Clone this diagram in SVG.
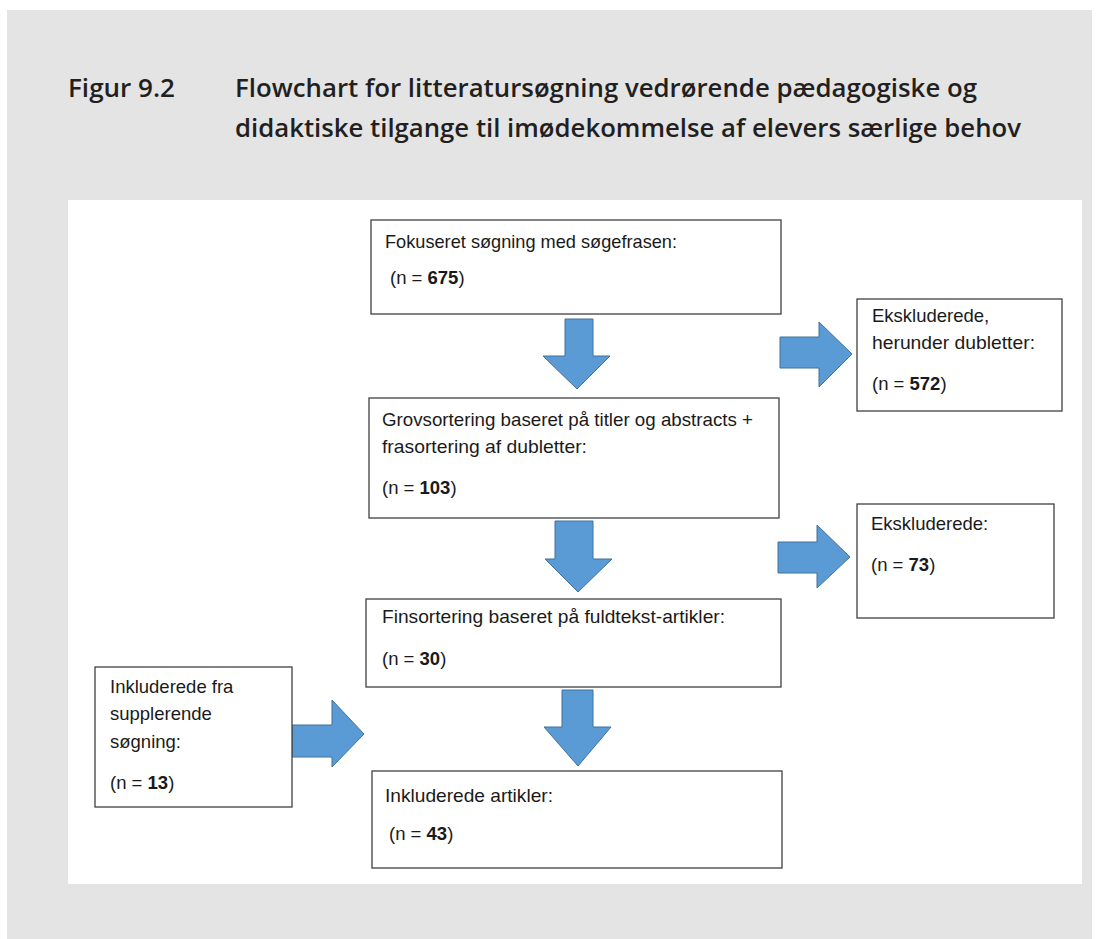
<svg xmlns="http://www.w3.org/2000/svg" width="1099" height="939" viewBox="0 0 1099 939">
<style>
.title{font-family:"Open Sans","Noto Sans",sans-serif;font-weight:600;font-size:25.5px;fill:#231f20}
.box{fill:#ffffff;stroke:#404040;stroke-width:1.3}
.t{font-family:"Liberation Sans",Arial,sans-serif;font-size:18.5px;fill:#1a1a1a}
.b{font-weight:bold}
.arr{fill:#5b9bd5;stroke:#41719c;stroke-width:1}
</style>
<rect x="0" y="0" width="1099" height="939" fill="#ffffff"/>
<rect x="7" y="10" width="1085" height="929" fill="#e4e4e5"/>
<rect x="68" y="200" width="1014" height="684" fill="#ffffff"/>
<g id="title">
<text class="title" x="68" y="97" textLength="107" lengthAdjust="spacingAndGlyphs">Figur 9.2</text>
<text class="title" x="235" y="97" textLength="742" lengthAdjust="spacingAndGlyphs">Flowchart for litteratursøgning vedrørende pædagogiske og</text>
<text class="title" x="235" y="137" textLength="786" lengthAdjust="spacingAndGlyphs">didaktiske tilgange til imødekommelse af elevers særlige behov</text>
</g>
<g id="connectors">
<polygon class="arr" points="565,319 593,319 593,356 610,356 577,389 543,356 565,356"/>
<polygon class="arr" points="555,521 593,521 593,559 612,559 578,592 545,559 555,559"/>
<polygon class="arr" points="562,690 593,690 593,727 611,727 578,766 544,727 562,727"/>
<polygon class="arr" points="780,337 819,337 819,322 852,354 819,387 819,368 780,368"/>
<polygon class="arr" points="778,542 817,542 817,525 850,557 817,588 817,573 778,573"/>
<polygon class="arr" points="292,725 332,725 332,700 364,734 332,767 332,757 292,757"/>
</g>
<g id="n1">
<rect class="box" x="371" y="220" width="410" height="94"/>
<text class="t" x="385" y="248" textLength="292" lengthAdjust="spacingAndGlyphs">Fokuseret søgning med søgefrasen:</text>
<text class="t" x="390" y="284">(n = <tspan class="b">675</tspan>)</text>
</g>
<g id="n2">
<rect class="box" x="857" y="299" width="205" height="112"/>
<text class="t" x="872" y="322">Ekskluderede,</text>
<text class="t" x="872" y="349" textLength="163" lengthAdjust="spacingAndGlyphs">herunder dubletter:</text>
<text class="t" x="872" y="390">(n = <tspan class="b">572</tspan>)</text>
</g>
<g id="n3">
<rect class="box" x="369" y="398" width="410" height="120"/>
<text class="t" x="382" y="426" textLength="371" lengthAdjust="spacingAndGlyphs">Grovsortering baseret på titler og abstracts +</text>
<text class="t" x="382" y="453" textLength="205" lengthAdjust="spacingAndGlyphs">frasortering af dubletter:</text>
<text class="t" x="382" y="494">(n = <tspan class="b">103</tspan>)</text>
</g>
<g id="n4">
<rect class="box" x="857" y="504" width="197" height="114"/>
<text class="t" x="871" y="530">Ekskluderede:</text>
<text class="t" x="871" y="571">(n = <tspan class="b">73</tspan>)</text>
</g>
<g id="n5">
<rect class="box" x="366" y="599" width="415" height="88"/>
<text class="t" x="382" y="623" textLength="343" lengthAdjust="spacingAndGlyphs">Finsortering baseret på fuldtekst-artikler:</text>
<text class="t" x="382" y="665">(n = <tspan class="b">30</tspan>)</text>
</g>
<g id="n6">
<rect class="box" x="95" y="667" width="197" height="140"/>
<text class="t" x="110" y="693">Inkluderede fra</text>
<text class="t" x="110" y="720">supplerende</text>
<text class="t" x="110" y="748">søgning:</text>
<text class="t" x="110" y="789">(n = <tspan class="b">13</tspan>)</text>
</g>
<g id="n7">
<rect class="box" x="372" y="771" width="410" height="97"/>
<text class="t" x="385" y="802" textLength="168" lengthAdjust="spacingAndGlyphs">Inkluderede artikler:</text>
<text class="t" x="389" y="840">(n = <tspan class="b">43</tspan>)</text>
</g>
</svg>
